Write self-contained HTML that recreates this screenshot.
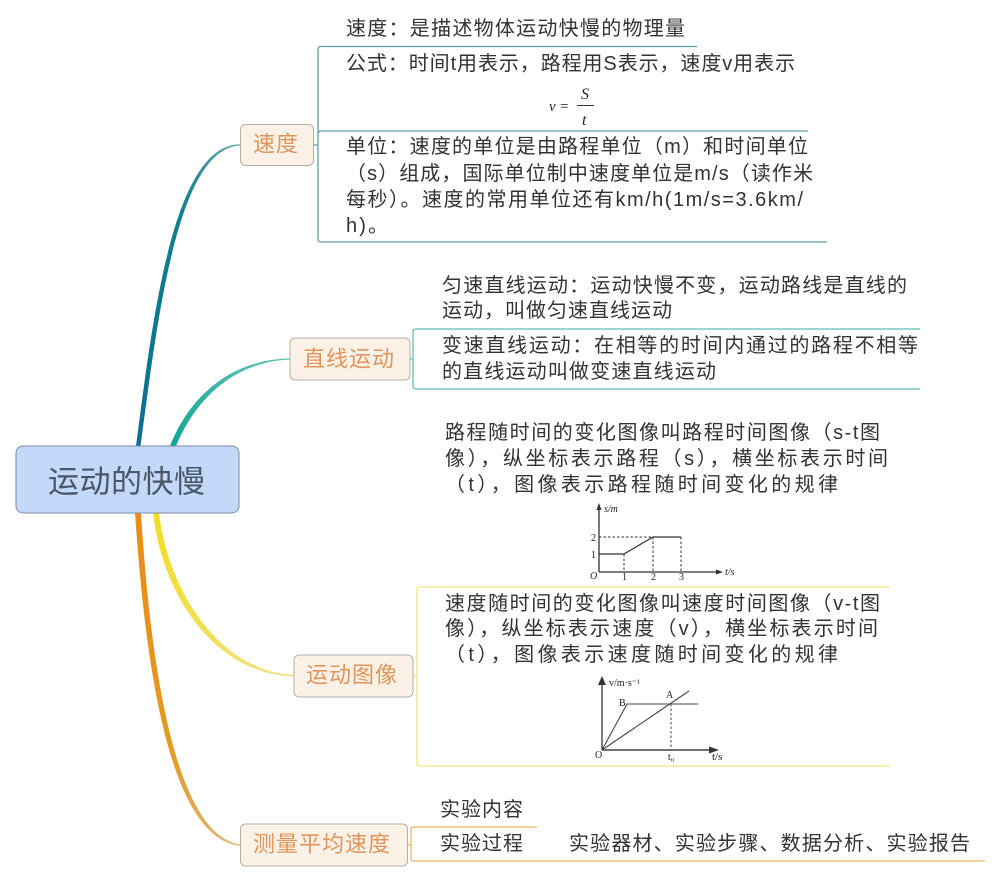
<!DOCTYPE html>
<html lang="zh"><head><meta charset="utf-8"><title>运动的快慢</title>
<style>
html,body{margin:0;padding:0;background:#fff}
svg{display:block}
text{font-family:"Liberation Sans","Noto Sans CJK SC",sans-serif}
.t{font-size:20px;fill:#333;dominant-baseline:central}
.n{font-size:22px;fill:#e0955a;dominant-baseline:central}
.c text{font-family:"Liberation Serif","Noto Serif CJK SC",serif;fill:#222}
</style></head><body>
<svg width="1000" height="881" viewBox="0 0 1000 881" xmlns="http://www.w3.org/2000/svg">
<defs>
<linearGradient id="gb" x1="0" y1="1" x2="1" y2="0"><stop offset="0" stop-color="#0c6f92"/><stop offset=".6" stop-color="#12808f"/><stop offset="1" stop-color="#5fa8a8"/></linearGradient>
<linearGradient id="gg" x1="0" y1="1" x2="1" y2="0"><stop offset="0" stop-color="#10a795"/><stop offset="1" stop-color="#63c3b5"/></linearGradient>
<linearGradient id="gy" x1="0" y1="0" x2="1" y2="1"><stop offset="0" stop-color="#f2dd20"/><stop offset="1" stop-color="#efe38a"/></linearGradient>
<linearGradient id="go" x1="0" y1="0" x2="1" y2="1"><stop offset="0" stop-color="#e98c18"/><stop offset=".5" stop-color="#e49a20"/><stop offset="1" stop-color="#dcbc80"/></linearGradient>
</defs>

<!-- branches -->
<path d="M136 446C152.500 320 173 144.400 240 144.400L240 145.600C177 148 157.500 320 140.500 446Z" fill="url(#gb)"/>
<path d="M170 446C190 395 232 359.500 290 358.400L290 359.600C235 361.500 196 398 176 446Z" fill="url(#gg)"/>
<path d="M153 513C162 592 212 674 294 676.500L294 675C218 671 168 589 159 513Z" fill="url(#gy)"/>
<path d="M135 513C144.500 650 166 838 240 845.800L240 844.400C172 834 149.500 650 141 513Z" fill="url(#go)"/>

<!-- root -->
<rect x="16" y="446" width="223" height="67" rx="7" fill="#c3d9f9" stroke="#7d8ba3" stroke-width="1"/>
<text x="48" y="479" font-size="31" textLength="157" lengthAdjust="spacing" style="font-family:'Noto Sans CJK SC',sans-serif;dominant-baseline:central" fill="#4a5568">运动的快慢</text>

<!-- nodes -->
<g fill="#fbf1e7" stroke="#b8aea5" stroke-width="1">
<rect x="240.500" y="124.500" width="73" height="41" rx="5"/>
<rect x="290" y="338" width="120" height="42" rx="5"/>
<rect x="294" y="655" width="119" height="42" rx="5"/>
<rect x="240.500" y="824" width="167" height="42" rx="5"/>
</g>
<text class="n" x="253" y="144" textLength="45">速度</text>
<text class="n" x="303" y="359" textLength="91">直线运动</text>
<text class="n" x="306" y="675" textLength="91">运动图像</text>
<text class="n" x="253" y="844" textLength="137">测量平均速度</text>

<!-- brackets -->
<g fill="none" stroke-width="1.300">
<g stroke="#5f9eaa">
<path d="M313 145H318"/>
<path d="M697 46.500H321Q318 46.500 318 50V239Q318 242 321 242H827"/>
<path d="M318 134Q318 131 321 131H808"/>
</g>
<g stroke="#62bdb8">
<path d="M410 359H413"/>
<path d="M920 329H416Q413 329 413 332V386Q413 389 416 389H920"/>
</g>
<g stroke="#f2e67e">
<path d="M413 676H417"/>
<path d="M890 587H420Q417 587 417 590V763Q417 766 420 766H890"/>
</g>
<g stroke="#e6b566">
<path d="M407 845H411"/>
<path d="M537 827H414Q411 827 411 830V858Q411 861 414 861H985"/>
</g>
</g>

<!-- 速度 text -->
<text class="t" x="346" y="29" textLength="339">速度&#xFF1A;是描述物体运动快慢的物理量</text>
<text class="t" x="346" y="64" textLength="449">公式&#xFF1A;时间t用表示&#xFF0C;路程用S表示&#xFF0C;速度v用表示</text>
<g class="c" font-style="italic">
<text x="549" y="111" font-size="15">v</text>
<text x="560" y="111" font-size="15" font-style="normal">=</text>
<text x="581" y="99" font-size="16">S</text>
<text x="582" y="125" font-size="16">t</text>
</g>
<path d="M577 105.500H594" stroke="#333" stroke-width="1"/>
<text class="t" x="346" y="147" textLength="462">单位&#xFF1A;速度的单位是由路程单位&#xFF08;m&#xFF09;和时间单位</text>
<text class="t" x="346" y="174" textLength="467">&#xFF08;s&#xFF09;组成&#xFF0C;国际单位制中速度单位是m/s&#xFF08;读作米</text>
<text class="t" x="346" y="200" textLength="457">每秒&#xFF09;。速度的常用单位还有km/h(1m/s=3.6km/</text>
<text class="t" x="346" y="226" textLength="42">h)。</text>

<!-- 直线运动 text -->
<text class="t" x="442" y="286" textLength="465">匀速直线运动&#xFF1A;运动快慢不变&#xFF0C;运动路线是直线的</text>
<text class="t" x="442" y="311" textLength="230">运动&#xFF0C;叫做匀速直线运动</text>
<text class="t" x="442" y="346" textLength="476">变速直线运动&#xFF1A;在相等的时间内通过的路程不相等</text>
<text class="t" x="442" y="372" textLength="274">的直线运动叫做变速直线运动</text>

<!-- 图像 text -->
<text class="t" x="445" y="433" textLength="435">路程随时间的变化图像叫路程时间图像&#xFF08;s-t图</text>
<text class="t" x="445" y="459" textLength="443">像&#xFF09;&#xFF0C;纵坐标表示路程&#xFF08;s&#xFF09;&#xFF0C;横坐标表示时间</text>
<text class="t" x="445" y="485" textLength="393">&#xFF08;t&#xFF09;&#xFF0C;图像表示路程随时间变化的规律</text>
<text class="t" x="445" y="604" textLength="435">速度随时间的变化图像叫速度时间图像&#xFF08;v-t图</text>
<text class="t" x="445" y="629" textLength="433">像&#xFF09;&#xFF0C;纵坐标表示速度&#xFF08;v&#xFF09;&#xFF0C;横坐标表示时间</text>
<text class="t" x="445" y="655" textLength="393">&#xFF08;t&#xFF09;&#xFF0C;图像表示速度随时间变化的规律</text>

<!-- chart 1 -->
<g fill="none" stroke="#333">
<path d="M599 572V507M599 572H718" stroke-width="1.300"/>
<path d="M599 554H624L653 537H681" stroke-width="1.200"/>
<path d="M599 537H653M624 554V572M653 537V572M681 537V572" stroke-width="1" stroke-dasharray="2.500 2"/>
</g>
<path d="M599 503L596.500 510H601.500ZM723 572L716 569.500V574.500Z" fill="#333"/>
<g class="c" font-size="10">
<text x="604" y="512" font-style="italic">s/m</text>
<text x="591" y="541">2</text><text x="591" y="558">1</text>
<text x="590" y="579" font-style="italic">O</text>
<text x="622" y="580">1</text><text x="651" y="580">2</text><text x="679" y="580">3</text>
<text x="725" y="575" font-style="italic">t/s</text>
</g>

<!-- chart 2 -->
<g fill="none" stroke="#444">
<path d="M602 750V680M602 750H714" stroke-width="1.400"/>
<path d="M602 750L627 704H698" stroke-width="1.100"/>
<path d="M602 750L689 691" stroke-width="1.100"/>
<path d="M671 704V750" stroke-width="1" stroke-dasharray="2.500 2"/>
</g>
<path d="M602 676L598 685H606ZM719 750L709 746.500V753.500Z" fill="#333"/>
<g class="c" font-size="10">
<text x="609" y="686">v/m·s⁻¹</text>
<text x="619" y="706">B</text>
<text x="666" y="698">A</text>
<text x="595" y="758">O</text>
<text x="668" y="760">t₀</text>
<text x="712" y="760" font-size="11">t/s</text>
</g>

<!-- 测量 text -->
<text class="t" x="440" y="810" textLength="83">实验内容</text>
<text class="t" x="440" y="844" textLength="83">实验过程</text>
<text class="t" x="569" y="844" textLength="401">实验器材、实验步骤、数据分析、实验报告</text>
</svg>
</body></html>
